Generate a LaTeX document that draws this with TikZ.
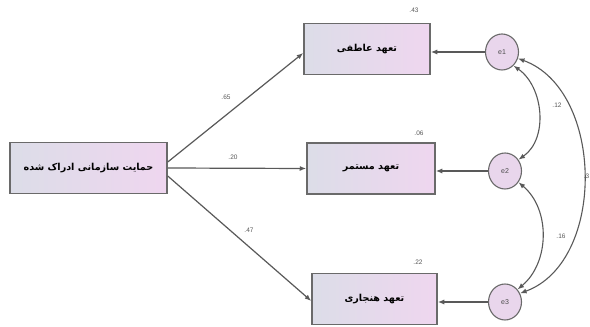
\documentclass[tikz,border=0pt]{standalone}
\usepackage{fontspec}
\usetikzlibrary{arrows.meta,shapes.geometric}
\setmainfont{Liberation Sans}
\newfontfamily\arabicfont[Script=Arabic]{DejaVu Sans}
\TeXXeTstate=1
\newcommand{\fa}[1]{{\arabicfont\bfseries\beginR #1\endR}}
\definecolor{boxleft}{HTML}{DCDDE8}
\definecolor{boxright}{HTML}{EFD6EF}
\definecolor{errfill}{HTML}{E9D6EC}
\definecolor{edge}{HTML}{6A6A6A}
\tikzset{
  varbox/.style={draw=edge, line width=1.5pt, left color=boxleft, right color=boxright,
    minimum width=#1, minimum height=51pt, inner sep=0pt, font=\fontsize{9.6}{11}\selectfont},
  errnode/.style={ellipse, draw=edge, line width=1.1pt, fill=errfill,
    minimum width=33pt, minimum height=36pt, inner sep=0pt, font=\fontsize{7}{8}\selectfont\color{black!70}},
  path/.style={draw=black!65, line width=1.2pt, -{Latex[length=6.5pt,width=5pt]}},
  cov/.style={draw=black!65, line width=1.1pt, {Latex[length=6.5pt,width=5pt]}-{Latex[length=6.5pt,width=5pt]}},
  est/.style={font=\fontsize{6.5}{8}\selectfont, text=black!65, inner sep=1pt}
}
\begin{document}
\begin{tikzpicture}[x=1pt,y=1pt]
  \fill[white] (0,0) rectangle (590,327);
  \useasboundingbox (0,0) rectangle (590,327);

  % observed variables
  \node[varbox=157pt] (L) at (88.5,159) {\fa{حمایت سازمانی ادراک شده}};
  \node[varbox=126pt] (B1) at (367,278) {\fa{تعهد عاطفی}};
  \node[varbox=128pt] (B2) at (371,158.5) {\fa{تعهد مستمر}};
  \node[varbox=125pt] (B3) at (374.5,28) {\fa{تعهد هنجاری}};

  % error terms
  \node[errnode] (e1) at (502,275) {e1};
  \node[errnode] (e2) at (505,156) {e2};
  \node[errnode] (e3) at (505,25) {e3};

  % structural paths
  \draw[path] ([yshift=6pt]L.east) -- ([yshift=-4pt]B1.west);
  \draw[path] (L.east) -- (B2.west);
  \draw[path] ([yshift=-8pt]L.east) -- ([yshift=-2pt]B3.west);

  % error paths
  \draw[path] (e1.west) -- (e1.west -| B1.east);
  \draw[path] (e2.west) -- (e2.west -| B2.east);
  \draw[path] (e3.west) -- (e3.west -| B3.east);

  % covariances
  \draw[cov] (e1.-50) to[out=-35,in=35] (e2.40);
  \draw[cov] (e2.-40) to[out=-40,in=40] (e3.45);
  \draw[cov] (e1.-22) to[out=-20,in=20] (e3.30);

  % estimates
  \node[est] (r1) at (414,317) {.43};
  \node[est] (r2) at (419,194) {.06};
  \node[est] (r3) at (418,65) {.22};
  \node[est] (p1) at (226,230) {.65};
  \node[est] (p2) at (233,170) {.20};
  \node[est] (p3) at (249,97) {.47};
  \node[est] (c1) at (557,222) {.12};
  \node[est] (c2) at (561,91) {.16};
  \node[est] (c3) at (586.5,151) {.3};
\end{tikzpicture}
\end{document}
